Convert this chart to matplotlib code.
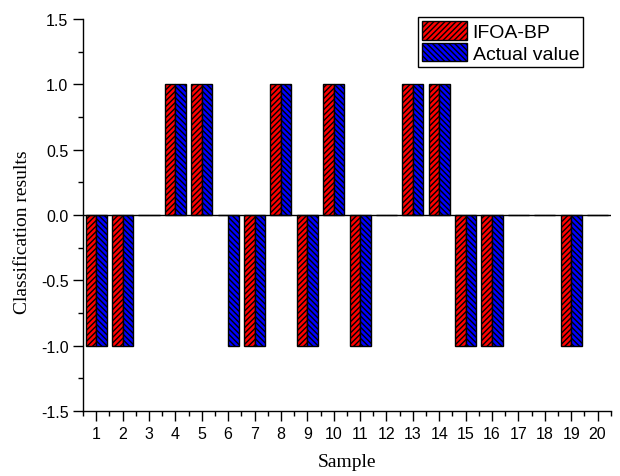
import matplotlib
matplotlib.use("Agg")
import matplotlib.pyplot as plt
import numpy as np
from matplotlib.ticker import MultipleLocator

samples = list(range(1, 21))
ifoa_bp = [-1, -1, 0, 1, 1, 0, -1, 1, -1, 1, -1, 0, 1, 1, -1, -1, 0, 0, -1, 0]
actual = [-1, -1, 0, 1, 1, -1, -1, 1, -1, 1, -1, 0, 1, 1, -1, -1, 0, 0, -1, 0]
yticks = [-1.5, -1.0, -0.5, 0.0, 0.5, 1.0, 1.5]

plt.rcParams['hatch.linewidth'] = 1.0
fig = plt.figure(figsize=(6.2, 4.77), dpi=100)
ax = fig.add_axes([0.134, 0.136, 0.851, 0.822])

x = np.array(samples)
w = 0.4
ax.bar(x - w/2, ifoa_bp, width=w, color='#ff0000', edgecolor='black', hatch='//////', linewidth=1.0, label='IFOA-BP')
ax.bar(x + w/2, actual, width=w, color='#0000ff', edgecolor='black', hatch='\\\\\\\\\\\\', linewidth=1.0, label='Actual value')
ax.axhline(0, color='black', linewidth=1.0, zorder=3)

ax.set_xlim(0.5, 20.5)
ax.set_ylim(-1.5, 1.5)
ax.set_xticks(samples)
ax.set_xticklabels([str(s) for s in samples], fontfamily='Liberation Sans', fontsize=11.5)
ax.xaxis.set_minor_locator(MultipleLocator(0.5))
ax.set_yticks(yticks)
ax.set_yticklabels([f"{v:.1f}" for v in yticks], fontfamily='Liberation Sans', fontsize=11.5)
ax.yaxis.set_minor_locator(MultipleLocator(0.25))
ax.tick_params(which='major', direction='out', length=7, width=1)
ax.tick_params(which='minor', direction='out', length=3.5, width=1)
ax.tick_params(axis='x', which='major', pad=4)
for s in ['top', 'right']:
    ax.spines[s].set_visible(False)
for s in ['left', 'bottom']:
    ax.spines[s].set_linewidth(1.0)

ax.set_xlabel('Sample', fontfamily='Liberation Serif', fontsize=14)
ax.xaxis.set_label_coords(0.5, -0.107)
ax.set_ylabel('Classification results', fontfamily='Liberation Serif', fontsize=14)
ax.yaxis.set_label_coords(-0.099, 0.459)

leg = ax.legend(loc='upper right', bbox_to_anchor=(0.955, 1.015), prop={'family': 'Liberation Sans', 'size': 14},
                frameon=True, fancybox=False, edgecolor='black', framealpha=1,
                handlelength=2.3, handleheight=1.1, handletextpad=0.3, borderpad=0.2, labelspacing=0.1,
                borderaxespad=0.2)
leg.get_frame().set_linewidth(1.0)

fig.savefig('out.png', dpi=100)
